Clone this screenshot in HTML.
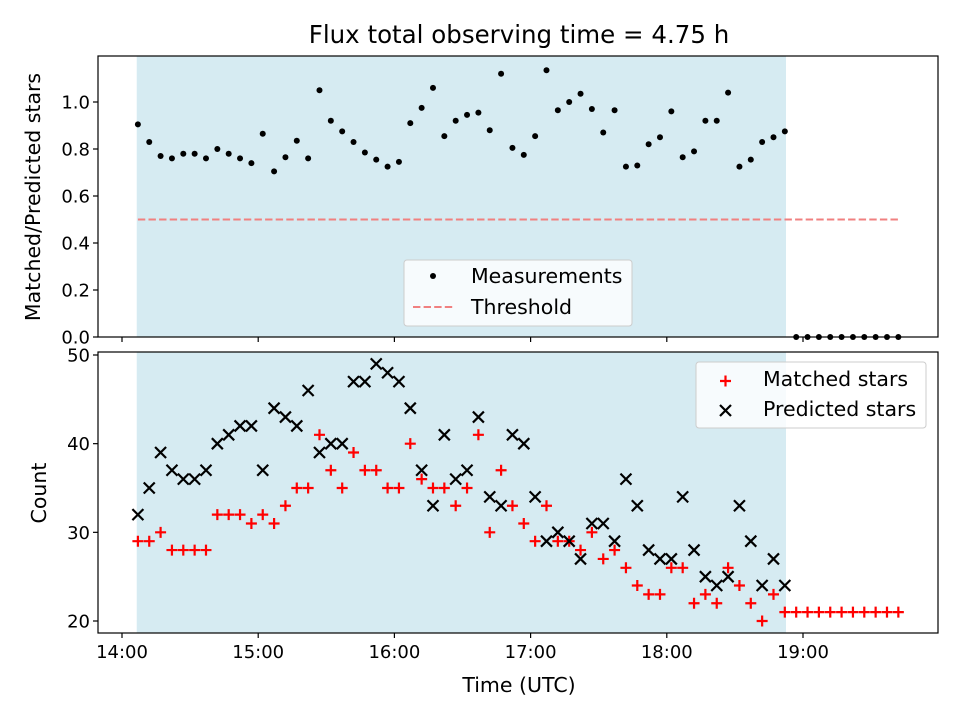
<!DOCTYPE html>
<html><head><meta charset="utf-8"><style>
body{margin:0;background:#fff}
svg{display:block;font-family:"DejaVu Sans","Liberation Sans",sans-serif}
</style></head><body>
<svg id="chart" width="960" height="720" viewBox="0 0 960 720"></svg>
<script>
const times=[7,12,17,22,27,32,37,42,47,52,57,62,67,72,77,82,87,92,97,102,107,112,117,122,127,132,137,142,147,152,157,162,167,172,177,182,187,192,197,202,207,212,217,222,227,232,237,242,247,252,257,262,267,272,277,282,287,292,297,302,307,312,317,322,327,332,337,342];
const ratio=[0.905,0.83,0.77,0.76,0.78,0.78,0.76,0.80,0.78,0.76,0.74,0.865,0.705,0.765,0.835,0.76,1.05,0.92,0.875,0.83,0.785,0.755,0.725,0.745,0.91,0.975,1.06,0.855,0.92,0.945,0.955,0.88,1.12,0.805,0.775,0.855,1.135,0.965,1.0,1.035,0.97,0.87,0.965,0.725,0.73,0.82,0.85,0.96,0.765,0.79,0.92,0.92,1.04,0.725,0.755,0.83,0.85,0.875,0,0,0,0,0,0,0,0,0,0];
const matched=[29,29,30,28,28,28,28,32,32,32,31,32,31,33,35,35,41,37,35,39,37,37,35,35,40,36,35,35,33,35,41,30,37,33,31,29,33,29,29,28,30,27,28,26,24,23,23,26,26,22,23,22,26,24,22,20,23,21,21,21,21,21,21,21,21,21,21,21];
const predicted=[32,35,39,37,36,36,37,40,41,42,42,37,44,43,42,46,39,40,40,47,47,49,48,47,44,37,33,41,36,37,43,34,33,41,40,34,29,30,29,27,31,31,29,36,33,28,27,27,34,28,25,24,25,33,29,24,27,24];
const xTickLabels=["14:00","15:00","16:00","17:00","18:00","19:00"];
const xTickMinutes=[0,60,120,180,240,300];
const topTicks=[0.0,0.2,0.4,0.6,0.8,1.0];
const botTicks=[20,30,40,50];
const shadeSpan=[6.5,292.5];
const threshold=0.5;
const thresholdSpan=[7,342];

const NS="http://www.w3.org/2000/svg";
const svg=document.getElementById('chart');
function el(t,a,p){const e=document.createElementNS(NS,t);for(const k in a)e.setAttribute(k,a[k]);(p||svg).appendChild(e);return e;}
const L=98,R=938,T1=56,B1=337,T2=352,B2=633;
const TF=18,LF=20.5;
const xs=m=>122+(m)*136.2/60;
const y1=v=>337-v*235;
const y2=v=>621-(v-20)*(266/30);

let t=el('text',{x:519,y:43,'text-anchor':'middle','font-size':24.5});t.textContent="Flux total observing time = 4.75 h";



function panel(top,bot,name){
  const g=el('g',{});
  
  
  const sh=el('rect',{x:xs(shadeSpan[0]),y:top,width:xs(shadeSpan[1])-xs(shadeSpan[0]),height:bot-top,fill:'#add8e6','fill-opacity':0.5},g);
  
  
  return g;
}
const g1=panel(T1,B1,'top-panel');
const g2=panel(T2,B2,'bottom-panel');

const th=el('line',{x1:xs(thresholdSpan[0]),x2:xs(thresholdSpan[1]),y1:y1(threshold),y2:y1(threshold),stroke:'#f08080','stroke-width':2,'stroke-dasharray':'7.4,3.2'},g1);



times.forEach((m,i)=>{
  const c=el('circle',{cx:xs(m),cy:y1(ratio[i]),r:3,fill:'#000'},g1);
  
  
});
times.forEach((m,i)=>{
  const x=xs(m),y=y2(matched[i]);
  const p=el('path',{d:`M${x-5.5},${y}H${x+5.5}M${x},${y-5.5}V${y+5.5}`,stroke:'#f00','stroke-width':2.2},g2);
  
  
});
predicted.forEach((v,i)=>{
  const x=xs(times[i]),y=y2(v);
  const p=el('path',{d:`M${x-5.5},${y-5.5}L${x+5.5},${y+5.5}M${x-5.5},${y+5.5}L${x+5.5},${y-5.5}`,stroke:'#000','stroke-width':2.2},g2);
  
  
});

[[T1,B1,'top-frame'],[T2,B2,'bottom-frame']].forEach(([a,b,n])=>{
  const r=el('rect',{x:L,y:a,width:R-L,height:b-a,fill:'none',stroke:'#000','stroke-width':1.2});
  
  
});
xTickMinutes.forEach((m,i)=>{
  const x=xs(m);
  el('line',{x1:x,x2:x,y1:B1,y2:B1+5,stroke:'#000','stroke-width':1.2});
  el('line',{x1:x,x2:x,y1:B2,y2:B2+5,stroke:'#000','stroke-width':1.2});
  const tx=el('text',{x:x,y:B2+25,'text-anchor':'middle','font-size':TF});tx.textContent=xTickLabels[i];
  
  
});
topTicks.forEach(v=>{
  const y=y1(v);
  el('line',{x1:L-5,x2:L,y1:y,y2:y,stroke:'#000','stroke-width':1.2});
  const tx=el('text',{x:L-8,y:y+6.5,'text-anchor':'end','font-size':TF});tx.textContent=v.toFixed(1);
  
  
});
botTicks.forEach(v=>{
  const y=y2(v);
  el('line',{x1:L-5,x2:L,y1:y,y2:y,stroke:'#000','stroke-width':1.2});
  const tx=el('text',{x:L-8,y:y+6.5,'text-anchor':'end','font-size':TF});tx.textContent=String(v);
  
  
});
let a=el('text',{x:519,y:692,'text-anchor':'middle','font-size':LF});a.textContent="Time (UTC)";


a=el('text',{x:0,y:0,'text-anchor':'middle','font-size':LF,transform:'translate(40,197) rotate(-90)'});a.textContent="Matched/Predicted stars";


a=el('text',{x:0,y:0,'text-anchor':'middle','font-size':LF,transform:'translate(46,493) rotate(-90)'});a.textContent="Count";



let lg=el('g',{});


el('rect',{x:404,y:260,width:228,height:66,rx:3,fill:'#fff','fill-opacity':0.8,stroke:'#ccc'},lg);
el('circle',{cx:433,cy:276,r:3,fill:'#000'},lg);
let lt=el('text',{x:471,y:283,'font-size':LF},lg);lt.textContent="Measurements";


el('line',{x1:413,x2:455,y1:307,y2:307,stroke:'#f08080','stroke-width':2,'stroke-dasharray':'7.4,3.2'},lg);
lt=el('text',{x:471,y:314,'font-size':LF},lg);lt.textContent="Threshold";



lg=el('g',{});


el('rect',{x:696,y:362,width:230,height:66,rx:3,fill:'#fff','fill-opacity':0.8,stroke:'#ccc'},lg);
el('path',{d:'M720,381H731M725.5,375.5V386.5',stroke:'#f00','stroke-width':2.2},lg);
lt=el('text',{x:763,y:386,'font-size':LF},lg);lt.textContent="Matched stars";


el('path',{d:'M720,405L731,416M720,416L731,405',stroke:'#000','stroke-width':2.2},lg);
lt=el('text',{x:763,y:416,'font-size':LF},lg);lt.textContent="Predicted stars";


</script>
</body></html>
